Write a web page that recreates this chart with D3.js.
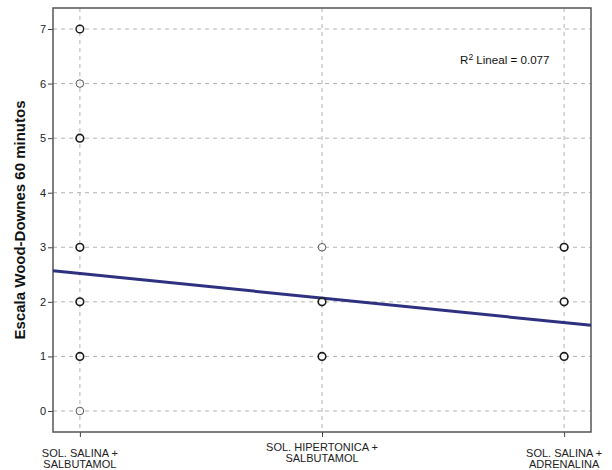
<!DOCTYPE html>
<html>
<head>
<meta charset="utf-8">
<script src="https://cdn.jsdelivr.net/npm/d3@7"></script>
<style>
  body { margin: 0; background: #fff; }
  text { font-family: "Liberation Sans", Arial, sans-serif; }
</style>
</head>
<body>
<script>
// Categories on the x axis (coded 1..3)
const categories = [
    ['SOL. SALINA +', 'SALBUTAMOL'],
    ['SOL. HIPERTONICA +', 'SALBUTAMOL'],
    ['SOL. SALINA +', 'ADRENALINA']
];
// Observed scores per group, with how many overlap at each point
const groupCodes = [1, 1, 1, 1, 1, 1, 1, 2, 2, 2, 3, 3, 3];
const scores     = [0, 1, 2, 3, 5, 6, 7, 1, 2, 3, 1, 2, 3];
const counts     = [1, 3, 3, 3, 3, 1, 2, 3, 4, 1, 3, 4, 3];
const yTicks = [0, 1, 2, 3, 4, 5, 6, 7];
// Linear fit
const fitIntercept = 2.97;
const fitSlope = -0.45;
const rSquared = 0.077;

const width = 612, height = 470;
const plotLeft = 53, plotRight = 591, plotTop = 8, plotBottom = 432;

const svg = d3.select('body').append('svg')
    .attr('width', width)
    .attr('height', height);

const x = d3.scaleLinear().domain([0.889, 3.111]).range([plotLeft, plotRight]);
const y = d3.scaleLinear().domain([-0.385, 7.385]).range([plotBottom, plotTop]);

// Grid lines
svg.append('g').selectAll('line')
    .data(yTicks)
    .enter().append('line')
    .attr('x1', plotLeft).attr('x2', plotRight)
    .attr('y1', d => y(d)).attr('y2', d => y(d))
    .attr('stroke', '#b4b4b4')
    .attr('stroke-dasharray', '4,4');

svg.append('g').selectAll('line')
    .data([1, 2, 3])
    .enter().append('line')
    .attr('x1', d => x(d)).attr('x2', d => x(d))
    .attr('y1', plotTop).attr('y2', plotBottom)
    .attr('stroke', '#b4b4b4')
    .attr('stroke-dasharray', '4,4');

// Axes
const yAxis = svg.append('g')
    .attr('transform', `translate(${plotLeft},0)`)
    .call(d3.axisLeft(y).tickValues(yTicks).tickSize(5).tickPadding(2));
const xAxis = svg.append('g')
    .attr('transform', `translate(0,${plotBottom})`)
    .call(d3.axisBottom(x).tickValues([1, 2, 3]).tickSize(5).tickFormat(''));
[yAxis, xAxis].forEach(a => {
    a.select('.domain').remove();
    a.selectAll('line').attr('stroke', '#444');
});
yAxis.selectAll('text').attr('font-size', 11).attr('fill', '#222')
    .attr('font-family', '"Liberation Sans", Arial, sans-serif');

// Frame
svg.append('rect')
    .attr('x', plotLeft).attr('y', plotTop)
    .attr('width', plotRight - plotLeft).attr('height', plotBottom - plotTop)
    .attr('fill', 'none')
    .attr('stroke', '#555')
    .attr('stroke-width', 1.5);

// Category labels (middle one sits a bit higher, as in SPSS)
const lab = svg.append('g').selectAll('text')
    .data(categories)
    .enter().append('text')
    .attr('text-anchor', 'middle')
    .attr('font-size', 11)
    .attr('fill', '#222')
    .attr('transform', (d, i) => `translate(${x(i + 1)},${i === 1 ? 451 : 457})`);
lab.append('tspan').attr('x', 0).attr('dy', 0).text(d => d[0]);
lab.append('tspan').attr('x', 0).attr('dy', 11).text(d => d[1]);

// Y title
svg.append('text')
    .attr('transform', `translate(25,${(plotTop + plotBottom) / 2}) rotate(-90)`)
    .attr('text-anchor', 'middle')
    .attr('font-size', 15)
    .attr('font-weight', 'bold')
    .attr('fill', '#111')
    .text('Escala Wood-Downes 60 minutos');

// Fit line
const fit = v => fitIntercept + fitSlope * v;
svg.append('line')
    .attr('x1', x(x.domain()[0])).attr('y1', y(fit(x.domain()[0])))
    .attr('x2', x(x.domain()[1])).attr('y2', y(fit(x.domain()[1])))
    .attr('stroke', '#2e3080')
    .attr('stroke-width', 3);

// Points
svg.append('g').selectAll('circle')
    .data(scores.map((s, i) => ({ g: groupCodes[i], s, n: counts[i] })))
    .enter().append('circle')
    .attr('cx', d => x(d.g))
    .attr('cy', d => y(d.s))
    .attr('r', 3.8)
    .attr('fill', '#fff')
    .attr('fill-opacity', 0.6)
    .attr('stroke', d => d.n > 1 ? '#1a1a1a' : '#555')
    .attr('stroke-width', d => d.n > 2 ? 1.6 : d.n > 1 ? 1.4 : 1.0);

// R squared annotation
const r2 = svg.append('text')
    .attr('x', 460).attr('y', 64)
    .attr('font-size', 11.6)
    .attr('fill', '#111');
r2.append('tspan').text('R');
r2.append('tspan').attr('dy', -4).attr('font-size', 8.5).text('2');
r2.append('tspan').attr('dy', 4).text(' Lineal = ' + rSquared.toFixed(3));
</script>
</body>
</html>
